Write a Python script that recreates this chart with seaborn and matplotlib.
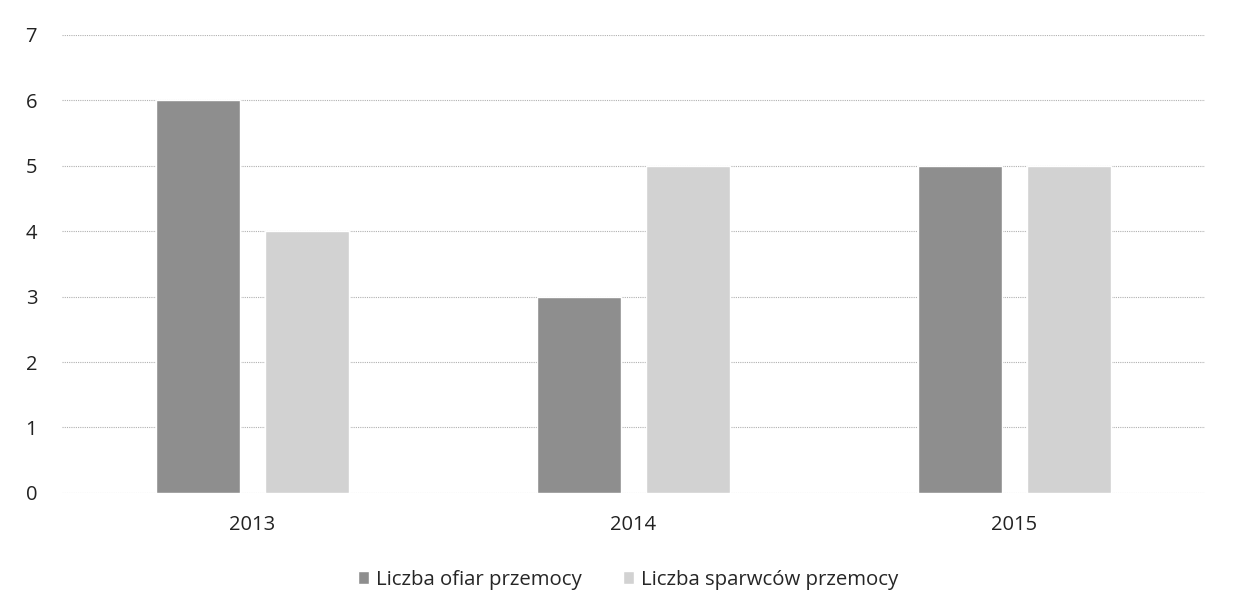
import matplotlib.pyplot as plt
import seaborn as sns
import pandas as pd

lata = ['2013', '2014', '2015']
ofiary = [6, 3, 5]
sprawcy = [4, 5, 5]
serie = ['Liczba ofiar przemocy', 'Liczba sparwców przemocy']

df = pd.DataFrame({
    'rok': lata * 2,
    'liczba': ofiary + sprawcy,
    'seria': [serie[0]] * 3 + [serie[1]] * 3,
})

sns.set_style('white')
plt.rcParams['font.family'] = ['Open Sans', 'DejaVu Sans']

fig = plt.figure(figsize=(12.34, 6.13), dpi=100)
ax = fig.add_axes([0.050, 0.196, 0.9265, 0.747])

sns.barplot(data=df, x='rok', y='liczba', hue='seria', palette=['#8e8e8e', '#d2d2d2'],
            width=0.572, gap=0.23, ax=ax, zorder=3)

ax.set_ylim(0, 7)
ax.set_yticks(range(0, 8))
ax.yaxis.grid(True, color='#b0b0b0', linestyle=(0, (1, 1)), linewidth=0.8, zorder=0)
for s in ax.spines.values():
    s.set_visible(False)
ax.set_xlabel('')
ax.set_ylabel('')
ax.tick_params(axis='both', length=0, labelsize=14.5, colors='#222222')
ax.tick_params(axis='x', pad=16)
for lab in ax.get_yticklabels():
    lab.set_horizontalalignment('left')
ax.yaxis.set_tick_params(pad=26)

ax.legend(loc='center', bbox_to_anchor=(0.4956, -0.19), ncol=2, frameon=False,
          fontsize=14.7, handlelength=0.55, handleheight=0.55, handletextpad=0.35,
          columnspacing=2.0)

fig.savefig('out.png', dpi=100, facecolor='white')
